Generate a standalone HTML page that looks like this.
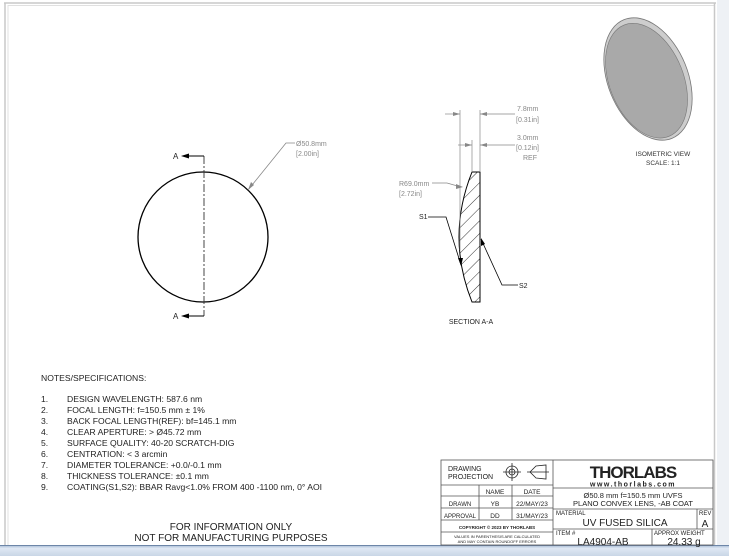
<!DOCTYPE html>
<html><head><meta charset="utf-8"><style>
html,body{margin:0;padding:0;background:#fff;}
body{width:729px;height:556px;overflow:hidden;position:relative;font-family:"Liberation Sans",sans-serif;}
svg{position:absolute;left:0;top:0;}
</style></head><body>
<svg width="729" height="556" viewBox="0 0 729 556" xmlns="http://www.w3.org/2000/svg" font-family="Liberation Sans, sans-serif">
<defs>
<pattern id="hatch" width="9" height="9" patternUnits="userSpaceOnUse" patternTransform="rotate(45)">
<line x1="0" y1="0" x2="0" y2="9" stroke="#000" stroke-width="0.8"/></pattern>
<linearGradient id="bar" x1="0" y1="0" x2="0" y2="1"><stop offset="0" stop-color="#9fb4cf"/><stop offset="0.3" stop-color="#dfe8f4"/><stop offset="1" stop-color="#c9d6e6"/></linearGradient>
</defs>
<rect x="0" y="0" width="729" height="556" fill="#fff"/>
<rect x="717" y="0" width="12" height="556" fill="#eef1f5"/>
<line x1="4" y1="3" x2="716" y2="3" stroke="#c8c8c8" stroke-width="1.5"/>
<line x1="5" y1="3" x2="5" y2="545" stroke="#c8c8c8" stroke-width="1.5"/>
<line x1="8" y1="5" x2="8" y2="545" stroke="#e0e0e0" stroke-width="1"/>
<line x1="8" y1="5.5" x2="714" y2="5.5" stroke="#e0e0e0" stroke-width="1"/>
<line x1="714.5" y1="3" x2="714.5" y2="545" stroke="#c8c8c8" stroke-width="1.5"/>
<rect x="0" y="545" width="729" height="11" fill="url(#bar)"/>
<line x1="0" y1="545.5" x2="729" y2="545.5" stroke="#6d86a8" stroke-width="1"/>

<circle cx="203" cy="237" r="65" fill="none" stroke="#000" stroke-width="1.3"/>
<line x1="204" y1="156" x2="204" y2="316" stroke="#333" stroke-width="0.9" stroke-dasharray="8,2,2,2"/>
<line x1="186" y1="156" x2="204" y2="156" stroke="#000" stroke-width="0.9"/>
<line x1="186" y1="316" x2="204" y2="316" stroke="#000" stroke-width="0.9"/>
<polygon points="181,156 189,153.5 189,158.5" fill="#000"/>
<polygon points="181,316 189,313.5 189,318.5" fill="#000"/>
<text x="173" y="159" font-size="8" fill="#222">A</text>
<text x="173" y="319" font-size="8" fill="#222">A</text>
<polyline points="248,190 286,143 295,143" fill="none" stroke="#888" stroke-width="0.8"/>
<polygon points="248,190 251,182 254,185" fill="#888"/>
<text x="296" y="146" font-size="7" fill="#888">Ø50.8mm</text>
<text x="296" y="156" font-size="7" fill="#888">[2.00in]</text>

<path d="M472,172 L480,172 L480,302 L472,302 Q446,237 472,172 Z" fill="url(#hatch)" stroke="#000" stroke-width="1"/>
<line x1="460" y1="110" x2="460" y2="250" stroke="#888" stroke-width="0.7"/>
<line x1="472" y1="140" x2="472" y2="172" stroke="#888" stroke-width="0.7"/>
<line x1="480" y1="110" x2="480" y2="172" stroke="#888" stroke-width="0.7"/>
<line x1="445" y1="114" x2="460" y2="114" stroke="#888" stroke-width="0.7"/>
<polygon points="460,114 453,112 453,116" fill="#888"/>
<line x1="480" y1="114" x2="515" y2="114" stroke="#888" stroke-width="0.7"/>
<polygon points="480,114 487,112 487,116" fill="#888"/>
<line x1="458" y1="145" x2="472" y2="145" stroke="#888" stroke-width="0.7"/>
<polygon points="472,145 465,143 465,147" fill="#888"/>
<line x1="480" y1="145" x2="515" y2="145" stroke="#888" stroke-width="0.7"/>
<polygon points="480,145 487,143 487,147" fill="#888"/>
<text x="517" y="111" font-size="7" fill="#888">7.8mm</text>
<text x="516" y="122" font-size="7" fill="#888">[0.31in]</text>
<text x="517" y="140" font-size="7" fill="#888">3.0mm</text>
<text x="516" y="150" font-size="7" fill="#888">[0.12in]</text>
<text x="523" y="160" font-size="7" fill="#888">REF</text>
<polyline points="432,183 447,183 461,187" fill="none" stroke="#888" stroke-width="0.7"/>
<polygon points="463,187 456,184 456,189" fill="#888"/>
<text x="399" y="186" font-size="7" fill="#888">R69.0mm</text>
<text x="399" y="196" font-size="7" fill="#888">[2.72in]</text>
<polyline points="428,217 446,217 461,265" fill="none" stroke="#000" stroke-width="0.8"/>
<polygon points="461,266 458,258 463,258" fill="#000"/>
<text x="419" y="219" font-size="7" fill="#222">S1</text>
<polyline points="481,239 502,285 518,285" fill="none" stroke="#000" stroke-width="0.8"/>
<polygon points="481,238 481,246 485,244" fill="#000"/>
<text x="519" y="288" font-size="7" fill="#222">S2</text>
<text x="471" y="324" font-size="7" fill="#222" text-anchor="middle">SECTION A-A</text>

<g transform="translate(648,79) rotate(-22)">
<ellipse cx="0" cy="0" rx="40" ry="64" fill="#cdcdcd" stroke="#777" stroke-width="0.8"/>
<ellipse cx="-2" cy="1" rx="37" ry="60" fill="#a9a9a9" stroke="#777" stroke-width="0.6"/>
</g>
<text x="663" y="156" font-size="6.5" fill="#333" text-anchor="middle">ISOMETRIC VIEW</text>
<text x="663" y="165" font-size="6.5" fill="#333" text-anchor="middle">SCALE: 1:1</text>

<g font-size="8.6" fill="#222">
<text x="41" y="381">NOTES/SPECIFICATIONS:</text>
<text x="41" y="402">1.</text><text x="67" y="402">DESIGN WAVELENGTH: 587.6 nm</text>
<text x="41" y="413">2.</text><text x="67" y="413">FOCAL LENGTH: f=150.5 mm ± 1%</text>
<text x="41" y="424">3.</text><text x="67" y="424">BACK FOCAL LENGTH(REF): bf=145.1 mm</text>
<text x="41" y="435">4.</text><text x="67" y="435">CLEAR APERTURE: &gt; Ø45.72 mm</text>
<text x="41" y="446">5.</text><text x="67" y="446">SURFACE QUALITY: 40-20 SCRATCH-DIG</text>
<text x="41" y="457">6.</text><text x="67" y="457">CENTRATION: &lt; 3 arcmin</text>
<text x="41" y="468">7.</text><text x="67" y="468">DIAMETER TOLERANCE: +0.0/-0.1 mm</text>
<text x="41" y="479">8.</text><text x="67" y="479">THICKNESS TOLERANCE: ±0.1 mm</text>
<text x="41" y="490">9.</text><text x="67" y="490">COATING(S1,S2): BBAR Ravg&lt;1.0% FROM 400 -1100 nm, 0° AOI</text>
</g>
<text x="231" y="530" font-size="10" fill="#222" text-anchor="middle">FOR INFORMATION ONLY</text>
<text x="231" y="541" font-size="10" fill="#222" text-anchor="middle">NOT FOR MANUFACTURING PURPOSES</text>

<g stroke="#555" stroke-width="0.8" fill="none">
<rect x="441" y="460" width="272" height="85"/>
<line x1="553" y1="460" x2="553" y2="545"/>
<line x1="441" y1="485" x2="553" y2="485"/>
<line x1="441" y1="496" x2="553" y2="496"/>
<line x1="441" y1="508" x2="553" y2="508"/>
<line x1="441" y1="520" x2="553" y2="520"/>
<line x1="441" y1="532" x2="553" y2="532"/>
<line x1="479" y1="485" x2="479" y2="520"/>
<line x1="512" y1="485" x2="512" y2="520"/>
<line x1="553" y1="488" x2="713" y2="488"/>
<line x1="553" y1="509" x2="713" y2="509"/>
<line x1="553" y1="529" x2="713" y2="529"/>
<line x1="697" y1="509" x2="697" y2="529"/>
<line x1="652" y1="529" x2="652" y2="545"/>
<circle cx="512" cy="472" r="6" stroke="#222"/><circle cx="512" cy="472" r="3" stroke="#222"/>
<line x1="503" y1="472" x2="521" y2="472" stroke="#222"/><line x1="512" y1="463" x2="512" y2="481" stroke="#222"/>
<polygon points="530,472 536,466 546,465 546,479 536,478" stroke="#222"/>
<line x1="527" y1="472" x2="549" y2="472" stroke="#222"/>
</g>
<g fill="#222">
<text x="448" y="471" font-size="7">DRAWING</text>
<text x="448" y="479" font-size="7">PROJECTION</text>
<text x="495" y="494" font-size="6.5" text-anchor="middle">NAME</text>
<text x="532" y="494" font-size="6.5" text-anchor="middle">DATE</text>
<text x="460" y="506" font-size="6" text-anchor="middle">DRAWN</text>
<text x="495" y="506" font-size="6.5" text-anchor="middle">YB</text>
<text x="532" y="506" font-size="6.5" text-anchor="middle">22/MAY/23</text>
<text x="460" y="518" font-size="6" text-anchor="middle">APPROVAL</text>
<text x="495" y="518" font-size="6.5" text-anchor="middle">DD</text>
<text x="532" y="518" font-size="6.5" text-anchor="middle">31/MAY/23</text>
<text x="497" y="529" font-size="4.5" font-weight="bold" text-anchor="middle">COPYRIGHT © 2023 BY THORLABS</text>
<text x="497" y="538" font-size="4" text-anchor="middle">VALUES IN PARENTHESIS ARE CALCULATED</text>
<text x="497" y="543" font-size="4" text-anchor="middle">AND MAY CONTAIN ROUNDOFF ERRORS</text>
<text x="633" y="478" font-size="17" font-weight="bold" text-anchor="middle" letter-spacing="-1">THORLABS</text>
<text x="633" y="486.5" font-size="7" font-weight="bold" text-anchor="middle" letter-spacing="1.5">www.thorlabs.com</text>
<text x="633" y="498" font-size="7.5" text-anchor="middle">Ø50.8 mm f=150.5 mm UVFS</text>
<text x="633" y="506" font-size="7.5" text-anchor="middle">PLANO CONVEX LENS, -AB COAT</text>
<text x="556" y="515" font-size="6">MATERIAL</text>
<text x="625" y="526" font-size="10" text-anchor="middle">UV FUSED SILICA</text>
<text x="699" y="515" font-size="6">REV</text>
<text x="705" y="527" font-size="10" text-anchor="middle">A</text>
<text x="556" y="535" font-size="6">ITEM #</text>
<text x="603" y="545" font-size="10" text-anchor="middle">LA4904-AB</text>
<text x="654" y="535" font-size="6">APPROX WEIGHT</text>
<text x="684" y="545" font-size="10" text-anchor="middle">24.33 g</text>
</g>
</svg>
</body></html>
